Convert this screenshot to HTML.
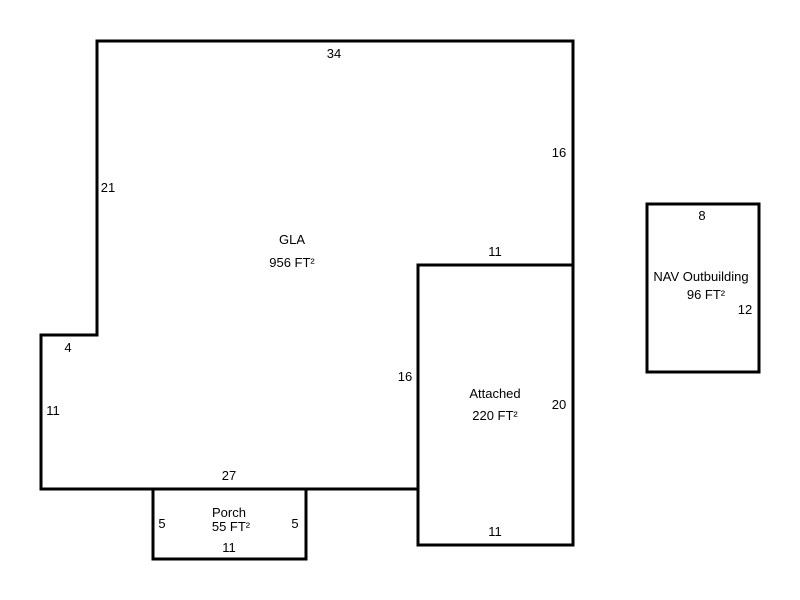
<!DOCTYPE html>
<html><head><meta charset="utf-8"><style>
html,body{margin:0;padding:0;background:#fff;width:800px;height:600px;overflow:hidden}
text{font-family:"Liberation Sans",Arial,sans-serif;font-size:13px;fill:#000}
</style></head><body>
<svg width="800" height="600" xmlns="http://www.w3.org/2000/svg">
<g fill="none" stroke="#000" stroke-width="3" stroke-linecap="square">
<polygon points="97,41 573,41 573,265 418,265 418,489 41,489 41,335 97,335"/>
<polygon points="418,265 573,265 573,545 418,545"/>
<polygon points="153,489 306,489 306,559 153,559"/>
<polygon points="647,204 759,204 759,372 647,372"/>
</g>
<g text-anchor="middle">
<text x="334" y="58">34</text>
<text x="559" y="157">16</text>
<text x="108" y="192">21</text>
<text x="292" y="244">GLA</text>
<text x="292" y="267">956 FT²</text>
<text x="495" y="256">11</text>
<text x="68" y="352">4</text>
<text x="53" y="415">11</text>
<text x="405" y="381">16</text>
<text x="495" y="398">Attached</text>
<text x="495" y="420">220 FT²</text>
<text x="559" y="409">20</text>
<text x="229" y="480">27</text>
<text x="229" y="517">Porch</text>
<text x="231" y="531">55 FT²</text>
<text x="162" y="528">5</text>
<text x="295" y="528">5</text>
<text x="229" y="552">11</text>
<text x="495" y="536">11</text>
<text x="702" y="220">8</text>
<text x="701" y="281">NAV Outbuilding</text>
<text x="706" y="299">96 FT²</text>
<text x="745" y="314">12</text>
</g>
</svg>
</body></html>
